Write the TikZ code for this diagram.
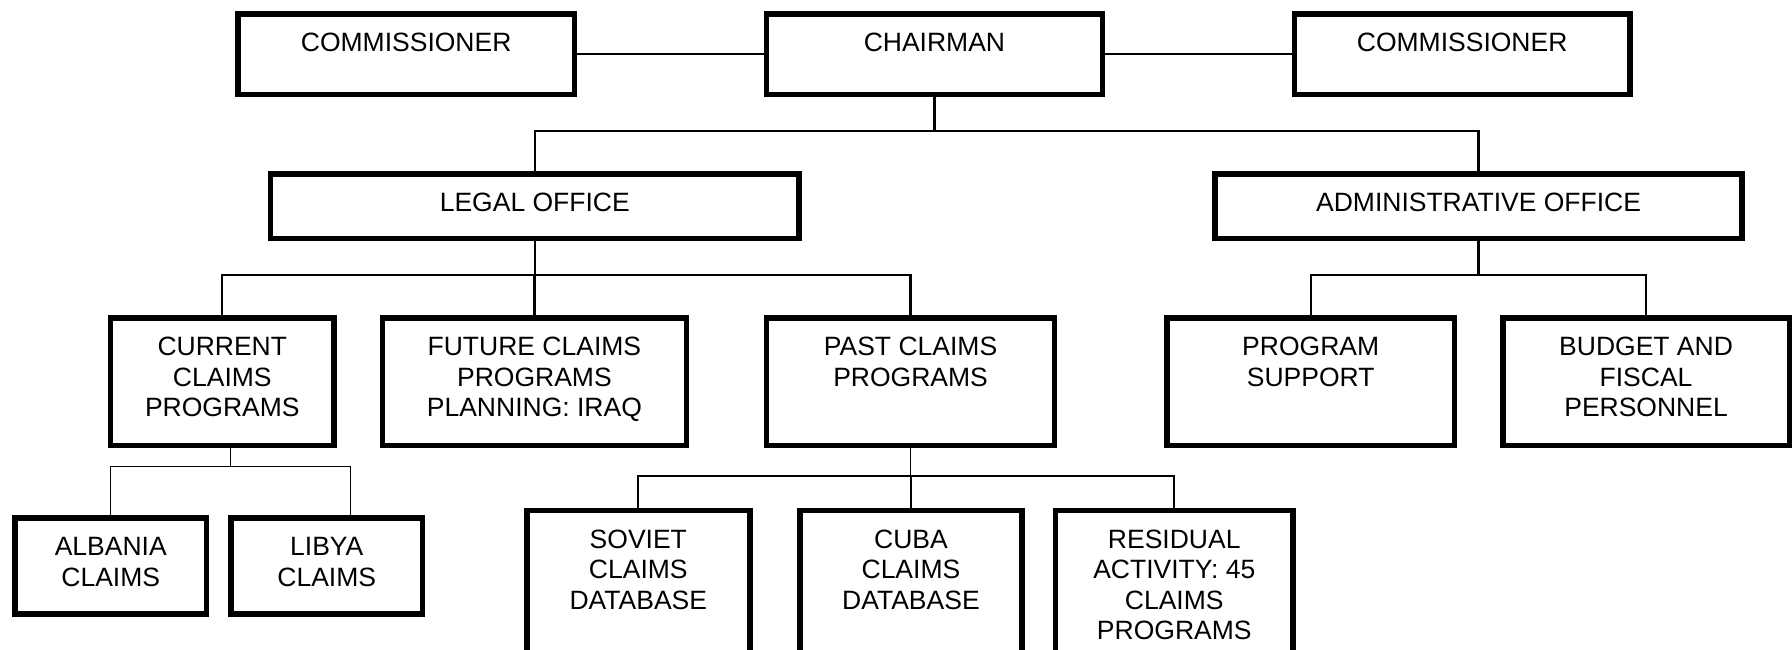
\documentclass[tikz,border=0pt]{standalone}
\usepackage{fontspec}
\setmainfont{Liberation Sans}
\newcommand{\boxtext}[1]{\begin{tabular}[t]{@{}c@{}}#1\end{tabular}}
\begin{document}
\begin{tikzpicture}[x=1pt,y=-1pt,
  box/.style={draw, line width=5.5pt, inner sep=0pt, anchor=north, text height=37.75pt, font=\fontsize{26.5}{30.5}\selectfont},
  toprow/.style={box, text depth=42.75pt},
  office/.style={box, text depth=26.75pt},
  unitbox/.style={box, text depth=89.75pt},
  smallbox/.style={box, text depth=58pt},
  lowbox/.style={box, text depth=116.75pt},
  link/.style={line width=2.3pt},
  sublink/.style={line width=1.8pt},
  thinlink/.style={line width=1.3pt}]
\fill[white] (0,0) rectangle (1792,649);
\clip (0,0) rectangle (1792,649);
% top row
\node[toprow, minimum width=336.2pt] (comL) at (406.15,11.05) {\boxtext{COMMISSIONER}};
\node[toprow, minimum width=335.8pt] (chair) at (934.45,11.05) {\boxtext{CHAIRMAN}};
\node[toprow, minimum width=335.8pt] (comR) at (1462.15,11.05) {\boxtext{COMMISSIONER}};
% offices
\node[office, minimum width=528.3pt] (legal) at (534.8,171.05) {\boxtext{LEGAL OFFICE}};
\node[office, minimum width=527.2pt] (admin) at (1478.55,171.05) {\boxtext{ADMINISTRATIVE OFFICE}};
% units
\node[unitbox, minimum width=223.3pt] (current) at (222.3,315.45) {\boxtext{CURRENT\\CLAIMS\\PROGRAMS}};
\node[unitbox, minimum width=304.1pt] (future) at (534.4,315.45) {\boxtext{FUTURE CLAIMS\\PROGRAMS\\PLANNING: IRAQ}};
\node[unitbox, minimum width=288pt] (past) at (910.55,315.45) {\boxtext{PAST CLAIMS\\PROGRAMS}};
\node[unitbox, minimum width=287.3pt] (progsup) at (1310.7,315.45) {\boxtext{PROGRAM\\SUPPORT}};
\node[unitbox, minimum width=286.4pt] (budget) at (1646.05,315.45) {\boxtext{BUDGET AND\\FISCAL\\PERSONNEL}};
% current claims children
\node[smallbox, minimum width=191.6pt] (albania) at (110.75,515.45) {\boxtext{ALBANIA\\CLAIMS}};
\node[smallbox, minimum width=191.2pt] (libya) at (326.75,515.45) {\boxtext{LIBYA\\CLAIMS}};
% past claims children
\node[lowbox, minimum width=223.1pt] (soviet) at (638.3,507.75) {\boxtext{SOVIET\\CLAIMS\\DATABASE}};
\node[lowbox, minimum width=221.6pt] (cuba) at (910.95,507.75) {\boxtext{CUBA\\CLAIMS\\DATABASE}};
\node[lowbox, minimum width=237.8pt] (residual) at (1174.25,507.75) {\boxtext{RESIDUAL\\ACTIVITY: 45\\CLAIMS\\PROGRAMS}};
% connectors
\draw[link] (comL.east) -- (chair.west);
\draw[link] (chair.east) -- (comR.west);
\coordinate (j1) at (934.6,131);
\draw[link] (chair.south) -- (chair.south |- j1);
\draw[link] (legal.north) -- (legal.north |- j1) -- (admin.north |- j1) -- (admin.north);
\coordinate (j2) at (534.7,275);
\draw[link] (legal.south) -- (legal.south |- j2);
\draw[link] (current.north) -- (current.north |- j2) -- (past.north |- j2) -- (past.north);
\draw[link] (future.north) -- (future.north |- j2);
\coordinate (j3) at (1478.5,275);
\draw[link] (admin.south) -- (admin.south |- j3);
\draw[link] (progsup.north) -- (progsup.north |- j3) -- (budget.north |- j3) -- (budget.north);
\coordinate (j4) at (230.5,466.7);
\coordinate (j4r) at (350.8,466.7);
\draw[thinlink] (current.south -| j4) -- (j4);
\draw[thinlink] (albania.north) -- (albania.north |- j4) -- (j4r) -- (j4r |- libya.north);
\coordinate (j5) at (910.6,475.7);
\draw[sublink] (past.south) -- (past.south |- j5);
\draw[sublink] (soviet.north) -- (soviet.north |- j5) -- (residual.north |- j5) -- (residual.north);
\draw[sublink] (cuba.north) -- (cuba.north |- j5);
\end{tikzpicture}
\end{document}
